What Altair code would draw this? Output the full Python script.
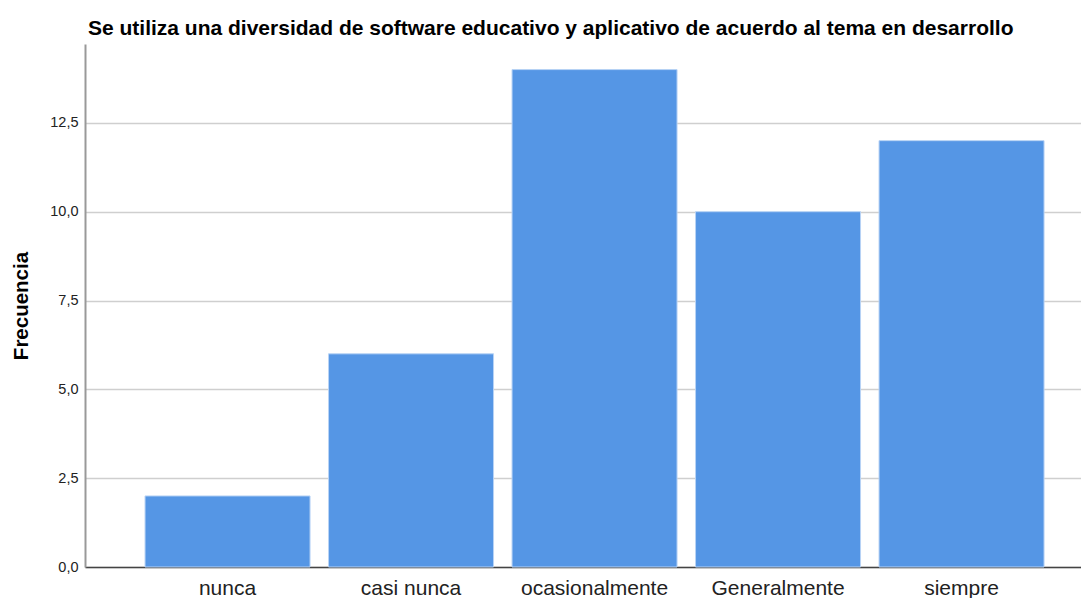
import altair as alt
import pandas as pd

categories = ["nunca", "casi nunca", "ocasionalmente", "Generalmente", "siempre"]
counts = [2, 6, 14, 10, 12]
y_ticks = [0, 2.5, 5, 7.5, 10, 12.5]
title_text = "Se utiliza una diversidad de software educativo y aplicativo de acuerdo al tema en desarrollo"

df = pd.DataFrame({"categoria": categories, "frecuencia": counts})

bars = alt.Chart(df).mark_bar(
    color="#5596E5", stroke="#B8D3F5", strokeWidth=1
).encode(
    x=alt.X("categoria:N", sort=categories, title=None,
            scale=alt.Scale(paddingInner=0.1008, paddingOuter=0.2643, align=0.619),
            axis=alt.Axis(labelAngle=0, labelFontSize=21, labelColor="#222222",
                          labelFont="Liberation Sans", labelPadding=10, ticks=False,
                          domainColor="#444444", domainWidth=1.5, labelLimit=300)),
    y=alt.Y("frecuencia:Q", title="Frecuencia",
            scale=alt.Scale(domain=[0, 14.72], nice=False, zero=True),
            axis=alt.Axis(values=y_ticks, ticks=False, grid=True, gridColor="#CFCFCF",
                          gridWidth=1.5, domainColor="#999999", domainWidth=2,
                          labelExpr="replace(format(datum.value, '.1f'), '.', ',')",
                          labelFontSize=14.5, labelColor="#222222", labelFont="Liberation Sans",
                          labelPadding=7, titleFontSize=20.5, titleFont="Liberation Sans",
                          titleFontWeight="bold", titleColor="#000000", titlePadding=18))
)

chart = bars.properties(
    width=996, height=523,
    autosize=alt.AutoSizeParams(type="none"),
    padding={"left": 77, "top": 36, "right": 0, "bottom": 40},
    title=alt.TitleParams(title_text, anchor="start", frame="group", fontSize=21,
                          font="Liberation Sans", fontWeight="bold", color="#000000",
                          offset=5, dx=3),
).configure_view(stroke=None)

chart.save("out.html", embed_options={"renderer": "svg", "actions": False})
